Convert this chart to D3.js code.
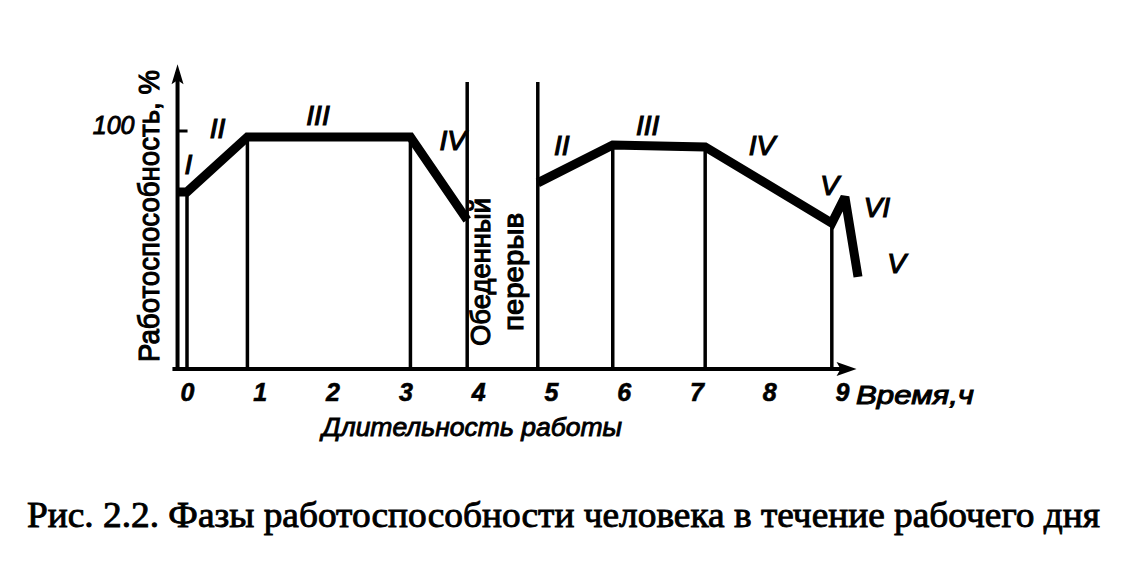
<!DOCTYPE html>
<html><head><meta charset="utf-8">
<script src="https://cdn.jsdelivr.net/npm/d3@7"></script>
<style>body{margin:0;background:#fff} svg{display:block}</style>
</head><body><svg id="c" width="1144" height="575"></svg>
<script>
// ---- data (hours, working capacity %) ----
const hourTicks = [0,1,2,3,4,5,6,7,8,9];
const morningCurve = [[-0.13,74.4],[0,74.4],[0.83,97.5],[3.07,97.5],[3.85,62.6]];
const afternoonCurve = [[4.82,78.2],[5.85,94.1],[7.12,93.3],[8.86,61.3],[9.04,72.3],[9.22,38.7]];
const phaseBounds = [[0,74.4],[0.83,97.5],[3.07,97.5],[5.85,94.1],[7.12,93.3],[8.86,61.3]];
const lunchBounds = [3.85, 4.82];
const lunchTop = 120.6;
const phaseNames = ["I","II","III","IV","II","III","IV","V","VI","V"];
const phaseAnchors = [[0.02,86],[0.42,101],[1.8,106.7],[3.65,96.2],[5.15,94],[6.33,102.5],[7.9,94],[8.83,77],[9.48,68],[9.75,44.5]];
const yTickValues = [100];
const yLabel = "Работоспособность, %";
const xLabel = "Время,ч";
const xSubLabel = "Длительность работы";
const lunchLabel = ["Обеденный","перерыв"];
const caption = "Рис. 2.2. Фазы работоспособности человека в течение рабочего дня";

const svg = d3.select("#c");
const x = d3.scaleLinear().domain([0,9]).range([187,842]);
const y = d3.scaleLinear().domain([0,100]).range([369,131]);
const xMin = -0.13, xAxisStart = -0.2, xAxisEnd = 9.2, yAxisEnd = 128;
const sans = "'Liberation Sans', Arial, sans-serif";

// vertical phase boundary lines
svg.append("g").selectAll("line").data(phaseBounds).join("line")
  .attr("x1", d=>x(d[0])).attr("x2", d=>x(d[0]))
  .attr("y1", d=>y(d[1])).attr("y2", y(0))
  .attr("stroke","#000").attr("stroke-width",3.5);
svg.append("g").selectAll("line").data(lunchBounds).join("line")
  .attr("x1", d=>x(d)).attr("x2", d=>x(d))
  .attr("y1", y(lunchTop)).attr("y2", y(0))
  .attr("stroke","#000").attr("stroke-width",3.5);

// axes
svg.append("line").attr("x1",x(xAxisStart)).attr("x2",x(xAxisEnd)-6)
  .attr("y1",y(0)).attr("y2",y(0)).attr("stroke","#000").attr("stroke-width",4);
svg.append("path").attr("d",`M${x(xAxisEnd)},${y(0)} l-20,-7 l4,7 l-4,7 z`).attr("fill","#000");
svg.append("line").attr("x1",x(xMin)).attr("x2",x(xMin))
  .attr("y1",y(0)+2).attr("y2",y(yAxisEnd)+8).attr("stroke","#000").attr("stroke-width",4);
svg.append("path").attr("d",`M${x(xMin)},${y(yAxisEnd)} l-6,20 l6,-4 l6,4 z`).attr("fill","#000");
svg.append("g").selectAll("line").data(yTickValues).join("line")
  .attr("x1",x(xMin)).attr("x2",x(xMin)+10).attr("y1",d=>y(d)).attr("y2",d=>y(d))
  .attr("stroke","#000").attr("stroke-width",3);
svg.append("g").selectAll("text").data(yTickValues).join("text")
  .attr("x",x(xMin)-43).attr("y",d=>y(d)+3).attr("text-anchor","end")
  .attr("font-family",sans).attr("font-style","italic").attr("font-size",25)
  .attr("stroke","#000").attr("stroke-width",0.9).text(d=>d);

// curves
const line = d3.line().x(d=>x(d[0])).y(d=>y(d[1]));
[morningCurve, afternoonCurve].forEach(c=>{
  svg.append("path").attr("d",line(c)).attr("fill","none").attr("stroke","#000")
    .attr("stroke-width",9).attr("stroke-linejoin","miter").attr("stroke-miterlimit",3);
});

// x axis tick labels
const xa = svg.append("g").attr("transform",`translate(0,${y(0)})`)
  .call(d3.axisBottom(x).tickValues(hourTicks).tickSize(0).tickPadding(24).tickFormat(d3.format("d")));
xa.select(".domain").remove();
xa.selectAll("text").attr("font-family",sans).attr("font-style","italic").attr("font-weight","bold")
  .attr("font-size",25).attr("fill","#000").attr("stroke","#000").attr("stroke-width",0.6).attr("dy","0.32em");
svg.append("text").attr("x",x(9)+14).attr("y",y(0)+35).attr("font-family",sans)
  .attr("font-style","italic").attr("font-size",26).attr("textLength",118).attr("lengthAdjust","spacingAndGlyphs")
  .attr("stroke","#000").attr("stroke-width",1).text(xLabel);
svg.append("text").attr("x",472).attr("y",y(0)+67).attr("text-anchor","middle").attr("font-family",sans)
  .attr("font-style","italic").attr("font-size",26).attr("textLength",300).attr("lengthAdjust","spacingAndGlyphs")
  .attr("stroke","#000").attr("stroke-width",0.9).text(xSubLabel);

// y label
svg.append("text").attr("transform",`translate(${x(xMin)-19},216) rotate(-90)`)
  .attr("text-anchor","middle").attr("font-family",sans).attr("font-size",29)
  .attr("textLength",292).attr("lengthAdjust","spacingAndGlyphs")
  .attr("stroke","#000").attr("stroke-width",1.1).text(yLabel);

// lunch label
svg.append("g").selectAll("text").data(lunchLabel).join("text")
  .attr("transform",(d,i)=>`translate(${(x(lunchBounds[0])+x(lunchBounds[1]))/2 - 12 + i*33},272) rotate(-90)`)
  .attr("text-anchor","middle").attr("font-family",sans).attr("font-size",28)
  .attr("textLength",(d,i)=>[148,118][i]).attr("lengthAdjust","spacingAndGlyphs")
  .attr("stroke","#000").attr("stroke-width",1.1).text(d=>d);

// phase labels
svg.append("g").selectAll("text").data(phaseNames).join("text")
  .attr("x",(d,i)=>x(phaseAnchors[i][0])).attr("y",(d,i)=>y(phaseAnchors[i][1]))
  .attr("text-anchor","middle").attr("dominant-baseline","central")
  .attr("font-family",sans).attr("font-style","italic").attr("font-size",28)
  .attr("stroke","#000").attr("stroke-width",1.2).text(d=>d);

// caption
svg.append("text").attr("x",27).attr("y",527).attr("font-family","'Liberation Serif','Times New Roman',serif")
  .attr("font-size",36).attr("textLength",1073).attr("lengthAdjust","spacingAndGlyphs")
  .attr("stroke","#000").attr("stroke-width",0.9).text(caption);
</script></body></html>
